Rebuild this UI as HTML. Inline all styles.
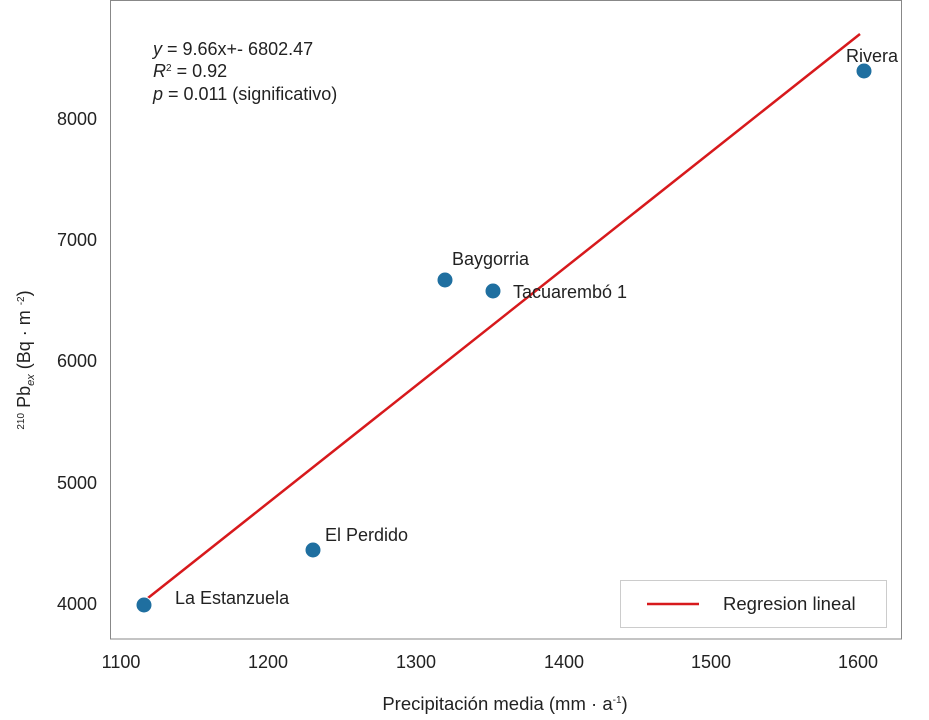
<!DOCTYPE html>
<html><head><meta charset="utf-8"><style>
body{margin:0;background:#fff}
svg{display:block;font-family:"Liberation Sans","DejaVu Sans",sans-serif}
</style></head><body>
<svg width="929" height="720" viewBox="0 0 929 720" xmlns="http://www.w3.org/2000/svg">
<rect x="110.5" y="0.5" width="791" height="638.5" fill="none" stroke="#888" stroke-width="1"/>
<g font-size="18" fill="#222" text-anchor="end">
<text x="97" y="125">8000</text>
<text x="97" y="246">7000</text>
<text x="97" y="367">6000</text>
<text x="97" y="489">5000</text>
<text x="97" y="610">4000</text>
</g>
<g font-size="18" fill="#222" text-anchor="middle">
<text x="121" y="668">1100</text>
<text x="268" y="668">1200</text>
<text x="416" y="668">1300</text>
<text x="564" y="668">1400</text>
<text x="711" y="668">1500</text>
<text x="858" y="668">1600</text>
<text x="505" y="710" font-size="18.5">Precipitación media (mm · a<tspan font-size="10" dy="-7">-1</tspan><tspan dy="7">)</tspan></text>
</g>
<text transform="translate(30,360) rotate(-90)" font-size="18" fill="#222" text-anchor="middle"><tspan font-size="10" dy="-6">210</tspan><tspan dy="6"> Pb</tspan><tspan font-size="11" font-style="italic" dy="4">ex</tspan><tspan dy="-4"> (Bq · m </tspan><tspan font-size="10" dy="-6">-2</tspan><tspan dy="6">)</tspan></text>
<g font-size="18" fill="#222">
<text x="153" y="55"><tspan font-style="italic">y</tspan> = 9.66x+- 6802.47</text>
<text x="153" y="77"><tspan font-style="italic">R</tspan><tspan font-size="10" dy="-6">2</tspan><tspan dy="6"> = 0.92</tspan></text>
<text x="153" y="100"><tspan font-style="italic">p</tspan> = 0.011 (significativo)</text>
</g>
<line x1="148" y1="598" x2="860" y2="34" stroke="#d7191c" stroke-width="2.5"/>
<g fill="#1f6fa0" stroke="#fff" stroke-width="1">
<circle cx="144" cy="605" r="8"/>
<circle cx="313" cy="550" r="8"/>
<circle cx="445" cy="280" r="8"/>
<circle cx="493" cy="291" r="8"/>
<circle cx="864" cy="71" r="8"/>
</g>
<g font-size="18" fill="#222">
<text x="175" y="604">La Estanzuela</text>
<text x="325" y="541">El Perdido</text>
<text x="452" y="265">Baygorria</text>
<text x="513" y="298">Tacuarembó 1</text>
<text x="846" y="62">Rivera</text>
</g>
<rect x="620.5" y="580.5" width="266" height="47" fill="#fff" stroke="#ccc"/>
<line x1="647" y1="604" x2="699" y2="604" stroke="#d7191c" stroke-width="2.5"/>
<text x="723" y="610" font-size="18.5" fill="#222">Regresion lineal</text>
</svg>
</body></html>
